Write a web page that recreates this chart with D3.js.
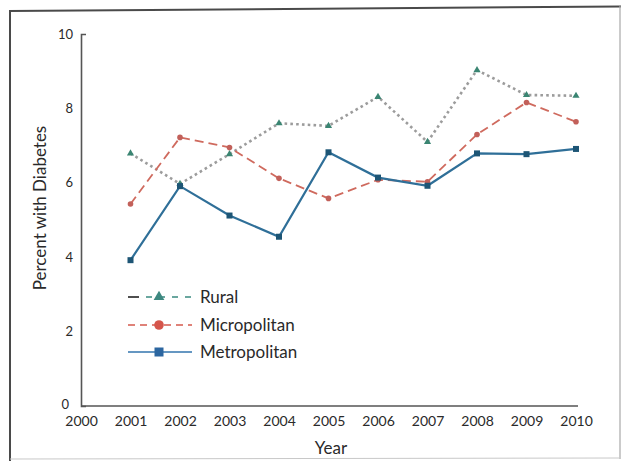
<!DOCTYPE html>
<html>
<head>
<meta charset="utf-8">
<script src="https://cdn.jsdelivr.net/npm/d3@7"></script>
<style>
  html, body { margin: 0; padding: 0; background: #fff; }
  svg { display: block; }
  text { font-family: Lato, "Open Sans", sans-serif; fill: #2a2a2a; }
</style>
</head>
<body>
<svg id="chart" width="633" height="461"></svg>
<script>
const years = [2001, 2002, 2003, 2004, 2005, 2006, 2007, 2008, 2009, 2010];
const rural = [6.79, 5.97, 6.77, 7.60, 7.53, 8.31, 7.10, 9.03, 8.36, 8.34];
const micropolitan = [5.43, 7.22, 6.95, 6.12, 5.58, 6.08, 6.03, 7.30, 8.16, 7.64];
const metropolitan = [3.92, 5.91, 5.12, 4.55, 6.82, 6.14, 5.92, 6.79, 6.77, 6.91];
const xTicks = [2000, 2001, 2002, 2003, 2004, 2005, 2006, 2007, 2008, 2009, 2010];
const yTicks = [0, 2, 4, 6, 8, 10];
const seriesNames = ["Rural", "Micropolitan", "Metropolitan"];

const svg = d3.select("#chart");

// scanned-page frame
svg.append("line").attr("x1", 10).attr("y1", 461).attr("x2", 10).attr("y2", 11)
  .attr("stroke", "#4a4a4a").attr("stroke-width", 2);
svg.append("line").attr("x1", 9).attr("y1", 11).attr("x2", 621).attr("y2", 6.5)
  .attr("stroke", "#4a4a4a").attr("stroke-width", 2);
svg.append("line").attr("x1", 620).attr("y1", 6).attr("x2", 620).attr("y2", 459)
  .attr("stroke", "#a8a8a8").attr("stroke-width", 1.2);
svg.append("line").attr("x1", 10).attr("y1", 459).attr("x2", 620).attr("y2", 458)
  .attr("stroke", "#c8c8c8").attr("stroke-width", 1);

const x = d3.scaleLinear().domain([2000, 2010]).range([81, 576]);
const y = d3.scaleLinear().domain([0, 10]).range([406, 34]);

// axes
const xAxis = d3.axisBottom(x).tickValues(xTicks).tickFormat(d3.format("d"))
  .tickSizeInner(0).tickSizeOuter(0).tickPadding(10);
const gx = svg.append("g").attr("transform", `translate(0,${y(0)})`).call(xAxis);
gx.select(".domain").attr("stroke", "#555").attr("stroke-width", 1.6)
  .attr("d", `M${x(2000)},0H${x(2010) + 2}`);
gx.selectAll("text").style("font-size", "14px").attr("fill", "#2a2a2a");

const yAxis = d3.axisLeft(y).tickValues(yTicks)
  .tickSizeInner(0).tickSizeOuter(-5).tickPadding(8);
const gy = svg.append("g").attr("transform", `translate(${x(2000)},0)`).call(yAxis);
gy.select(".domain").attr("stroke", "#555").attr("stroke-width", 1.6);
gy.selectAll("text").style("font-size", "13px").attr("fill", "#2a2a2a");
gy.selectAll(".tick").filter(d => d === 0).select("text")
  .attr("x", -12).attr("dy", "0.2em");

// axis titles
svg.append("text").attr("transform", "translate(46,208) rotate(-90)")
  .attr("text-anchor", "middle").style("font-size", "17px").text("Percent with Diabetes");
svg.append("text").attr("x", 331).attr("y", 454)
  .attr("text-anchor", "middle").style("font-size", "17px").text("Year");

const line = d3.line().x(d => x(d[0])).y(d => y(d[1]));

// Rural
const ruralData = years.map((yr, i) => [yr, rural[i]]);
svg.append("path").datum(ruralData).attr("d", line)
  .attr("fill", "none").attr("stroke", "#9c9c9c").attr("stroke-width", 2.6)
  .attr("stroke-dasharray", "2.6,3.2");
svg.append("g").selectAll("path").data(ruralData).join("path")
  .attr("transform", d => `translate(${x(d[0])},${y(d[1])})`)
  .attr("d", d3.symbol(d3.symbolTriangle, 22)())
  .attr("fill", "#3a8572");

// Micropolitan
const microData = years.map((yr, i) => [yr, micropolitan[i]]);
svg.append("path").datum(microData).attr("d", line)
  .attr("fill", "none").attr("stroke", "#cf6a5e").attr("stroke-width", 1.8)
  .attr("stroke-dasharray", "9,5");
svg.append("g").selectAll("circle").data(microData).join("circle")
  .attr("cx", d => x(d[0])).attr("cy", d => y(d[1])).attr("r", 2.8)
  .attr("fill", "#c2605a");

// Metropolitan
const metroData = years.map((yr, i) => [yr, metropolitan[i]]);
svg.append("path").datum(metroData).attr("d", line)
  .attr("fill", "none").attr("stroke", "#2f6f98").attr("stroke-width", 2.2);
svg.append("g").selectAll("rect").data(metroData).join("rect")
  .attr("x", d => x(d[0]) - 3).attr("y", d => y(d[1]) - 3)
  .attr("width", 6).attr("height", 6).attr("fill", "#1d5575");

// legend
const leg = svg.append("g");
const rows = [297, 325, 352];
// Rural sample
leg.append("line").attr("x1", 128).attr("x2", 139).attr("y1", rows[0]).attr("y2", rows[0])
  .attr("stroke", "#222").attr("stroke-width", 1.6);
leg.append("line").attr("x1", 146).attr("x2", 192).attr("y1", rows[0]).attr("y2", rows[0])
  .attr("stroke", "#3a8a80").attr("stroke-width", 1.4).attr("stroke-dasharray", "6,7");
leg.append("path").attr("transform", `translate(159,${rows[0]})`)
  .attr("d", d3.symbol(d3.symbolTriangle, 50)()).attr("fill", "#3d8880");
// Micropolitan sample
leg.append("line").attr("x1", 128).attr("x2", 192).attr("y1", rows[1]).attr("y2", rows[1])
  .attr("stroke", "#d5594e").attr("stroke-width", 1.6).attr("stroke-dasharray", "7,5");
leg.append("circle").attr("cx", 159).attr("cy", rows[1]).attr("r", 4.8).attr("fill", "#d5554b");
// Metropolitan sample
leg.append("line").attr("x1", 128).attr("x2", 192).attr("y1", rows[2]).attr("y2", rows[2])
  .attr("stroke", "#3274ae").attr("stroke-width", 1.6);
leg.append("rect").attr("x", 154.5).attr("y", rows[2] - 4.5).attr("width", 9).attr("height", 9)
  .attr("fill", "#2c66a0");
leg.selectAll("text.lab").data(seriesNames).join("text").attr("class", "lab")
  .attr("x", 200).attr("y", (d, i) => rows[i]).attr("dy", "0.36em")
  .style("font-size", "17px").text(d => d);
</script>
</body>
</html>
